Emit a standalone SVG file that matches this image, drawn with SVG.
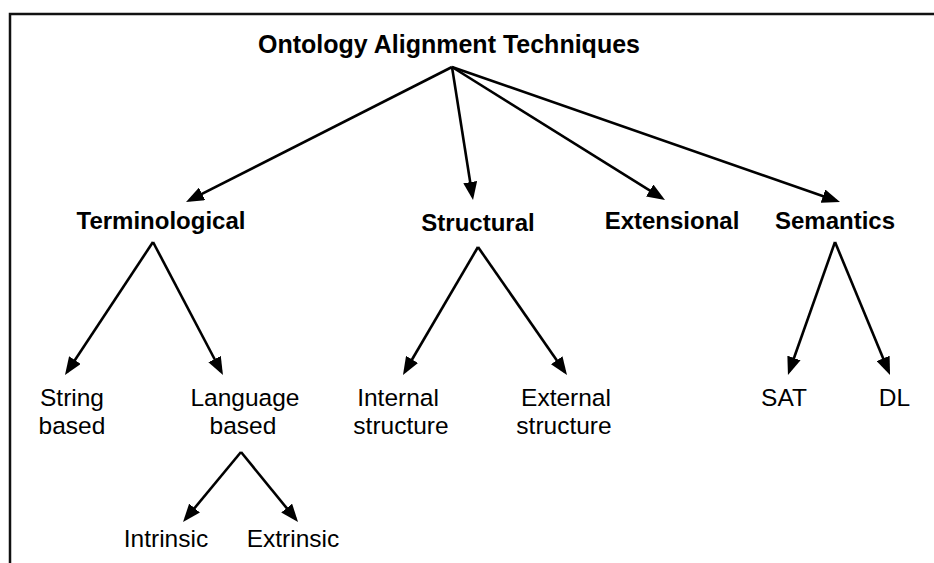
<svg xmlns="http://www.w3.org/2000/svg" width="934" height="563" viewBox="0 0 934 563">
<style>
  text { font-family: "Liberation Sans", Arial, sans-serif; fill: #000; text-anchor: middle; }
  .b { font-weight: bold; font-size: 24px; }
  .t { font-weight: bold; font-size: 25px; }
  .r { font-size: 24.5px; }
  .c line { stroke: #000; stroke-width: 2.6; fill: none; }
</style>
<defs>
  <marker id="ah" markerUnits="userSpaceOnUse" markerWidth="18" markerHeight="14" refX="14" refY="7" orient="auto">
    <path d="M0,0 L18,7 L0,14 z" fill="#000"/>
  </marker>
</defs>
<rect x="0" y="0" width="934" height="563" fill="#fff"/>
<g id="frame">
  <path d="M934,14 L10,14 L10,563" fill="none" stroke="#111" stroke-width="2.5"/>
</g>
<g class="c" id="connectors">
  <line x1="452" y1="67" x2="189.6" y2="200.2" marker-end="url(#ah)"/>
  <line x1="452" y1="67" x2="472.4" y2="196" marker-end="url(#ah)"/>
  <line x1="452" y1="67" x2="661.6" y2="197.9" marker-end="url(#ah)"/>
  <line x1="452" y1="67" x2="836.2" y2="200.7" marker-end="url(#ah)"/>
  <line x1="153" y1="242" x2="67.2" y2="371.7" marker-end="url(#ah)"/>
  <line x1="153" y1="242" x2="221.1" y2="371.5" marker-end="url(#ah)"/>
  <line x1="478" y1="247" x2="405" y2="371.5" marker-end="url(#ah)"/>
  <line x1="478" y1="247" x2="564.7" y2="371.7" marker-end="url(#ah)"/>
  <line x1="835" y1="242" x2="789.3" y2="371.2" marker-end="url(#ah)"/>
  <line x1="835" y1="242" x2="888.5" y2="371.3" marker-end="url(#ah)"/>
  <line x1="241" y1="452" x2="185.6" y2="518.9" marker-end="url(#ah)"/>
  <line x1="241" y1="452" x2="295.5" y2="518.9" marker-end="url(#ah)"/>
</g>
<g id="root"><text class="t" x="449" y="53">Ontology Alignment Techniques</text></g>
<g id="terminological"><text class="b" x="161" y="229">Terminological</text></g>
<g id="structural"><text class="b" x="478" y="231">Structural</text></g>
<g id="extensional"><text class="b" x="672" y="229">Extensional</text></g>
<g id="semantics"><text class="b" x="835" y="229">Semantics</text></g>
<g id="string-based"><text class="r" x="72" y="406">String</text><text class="r" x="72" y="434">based</text></g>
<g id="language-based"><text class="r" x="245" y="406">Language</text><text class="r" x="243" y="434">based</text></g>
<g id="internal-structure"><text class="r" x="398" y="406">Internal</text><text class="r" x="401" y="434">structure</text></g>
<g id="external-structure"><text class="r" x="566" y="406">External</text><text class="r" x="564" y="434">structure</text></g>
<g id="sat"><text class="r" x="784" y="406">SAT</text></g>
<g id="dl"><text class="r" x="894.5" y="406">DL</text></g>
<g id="intrinsic"><text class="r" x="166" y="547">Intrinsic</text></g>
<g id="extrinsic"><text class="r" x="293" y="547">Extrinsic</text></g>
</svg>
